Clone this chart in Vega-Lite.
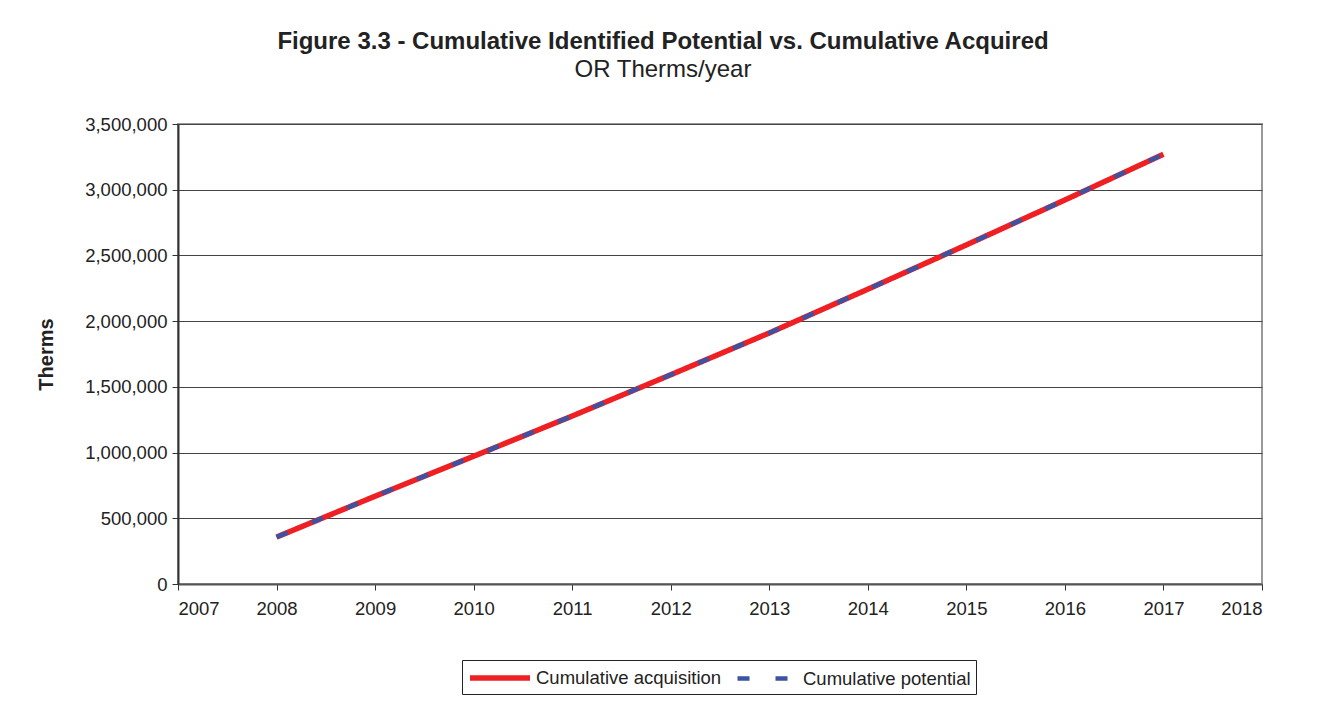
{
  "$schema": "https://vega.github.io/schema/vega-lite/v6.json",
  "width": 1084,
  "height": 460,
  "autosize": {"type": "none"},
  "padding": {"left": 178, "top": 124, "right": 63, "bottom": 121},
  "background": "white",
  "title": {
    "text": "Figure 3.3 - Cumulative Identified Potential vs. Cumulative Acquired",
    "subtitle": "OR Therms/year",
    "anchor": "middle",
    "dx": -57,
    "offset": 33,
    "font": "Liberation Sans",
    "fontSize": 24,
    "fontWeight": "bold",
    "color": "#222",
    "subtitleFont": "Liberation Sans",
    "subtitleFontSize": 24,
    "subtitleColor": "#222",
    "subtitlePadding": 4
  },
  "data": {
    "values": [
      {"year": 2008, "therms": 357000, "series": "Cumulative acquisition"},
      {"year": 2009, "therms": 668000, "series": "Cumulative acquisition"},
      {"year": 2010, "therms": 972000, "series": "Cumulative acquisition"},
      {"year": 2011, "therms": 1278000, "series": "Cumulative acquisition"},
      {"year": 2012, "therms": 1592000, "series": "Cumulative acquisition"},
      {"year": 2013, "therms": 1910000, "series": "Cumulative acquisition"},
      {"year": 2014, "therms": 2243000, "series": "Cumulative acquisition"},
      {"year": 2015, "therms": 2580000, "series": "Cumulative acquisition"},
      {"year": 2016, "therms": 2922000, "series": "Cumulative acquisition"},
      {"year": 2017, "therms": 3270000, "series": "Cumulative acquisition"},
      {"year": 2008, "therms": 357000, "series": "Cumulative potential"},
      {"year": 2009, "therms": 668000, "series": "Cumulative potential"},
      {"year": 2010, "therms": 972000, "series": "Cumulative potential"},
      {"year": 2011, "therms": 1278000, "series": "Cumulative potential"},
      {"year": 2012, "therms": 1592000, "series": "Cumulative potential"},
      {"year": 2013, "therms": 1910000, "series": "Cumulative potential"},
      {"year": 2014, "therms": 2243000, "series": "Cumulative potential"},
      {"year": 2015, "therms": 2580000, "series": "Cumulative potential"},
      {"year": 2016, "therms": 2922000, "series": "Cumulative potential"},
      {"year": 2017, "therms": 3270000, "series": "Cumulative potential"}
    ]
  },
  "mark": {"type": "line", "strokeCap": "butt"},
  "encoding": {
    "x": {
      "field": "year",
      "type": "quantitative",
      "scale": {"domain": [2007, 2018], "nice": false, "zero": false},
      "axis": {
        "values": [2007, 2008, 2009, 2010, 2011, 2012, 2013, 2014, 2015, 2016, 2017, 2018],
        "format": "d",
        "title": null,
        "grid": false,
        "domainColor": "#555",
        "domainWidth": 2,
        "tickColor": "#333",
        "tickSize": 6,
        "labelFont": "Liberation Sans",
        "labelFontSize": 18.5,
        "labelColor": "#222",
        "labelPadding": 9
      }
    },
    "y": {
      "field": "therms",
      "type": "quantitative",
      "scale": {"domain": [0, 3500000], "nice": false},
      "axis": {
        "values": [0, 500000, 1000000, 1500000, 2000000, 2500000, 3000000, 3500000],
        "format": ",d",
        "title": "Therms",
        "titleFont": "Liberation Sans",
        "titleFontSize": 20,
        "titleFontWeight": "bold",
        "titleColor": "#222",
        "titlePadding": 28,
        "grid": true,
        "gridColor": "#444",
        "gridWidth": 1,
        "domainColor": "#333",
        "domainWidth": 2,
        "tickColor": "#333",
        "tickSize": 6,
        "labelFont": "Liberation Sans",
        "labelFontSize": 18.5,
        "labelColor": "#222",
        "labelPadding": 5
      }
    },
    "color": {
      "field": "series",
      "type": "nominal",
      "scale": {"domain": ["Cumulative acquisition", "Cumulative potential"], "range": ["#ee2024", "#3c52a3"]},
      "legend": {
        "title": null,
        "orient": "none",
        "legendX": 284,
        "legendY": 536,
        "direction": "horizontal",
        "strokeColor": "#222",
        "padding": 5,
        "symbolType": "M-1,0H5",
        "symbolSize": 400,
        "labelFont": "Liberation Sans",
        "labelFontSize": 18.5,
        "labelColor": "#222",
        "labelLimit": 400,
        "labelOffset": 43,
        "columnPadding": 6
      }
    },
    "strokeDash": {
      "field": "series",
      "type": "nominal",
      "scale": {"domain": ["Cumulative acquisition", "Cumulative potential"], "range": [[1, 0], [12, 26]]},
      "legend": {"title": null}
    },
    "strokeWidth": {
      "field": "series",
      "type": "nominal",
      "scale": {"domain": ["Cumulative acquisition", "Cumulative potential"], "range": [5.5, 4.5]},
      "legend": {"title": null}
    }
  },
  "config": {
    "view": {"stroke": "#999", "strokeWidth": 2}
  }
}
